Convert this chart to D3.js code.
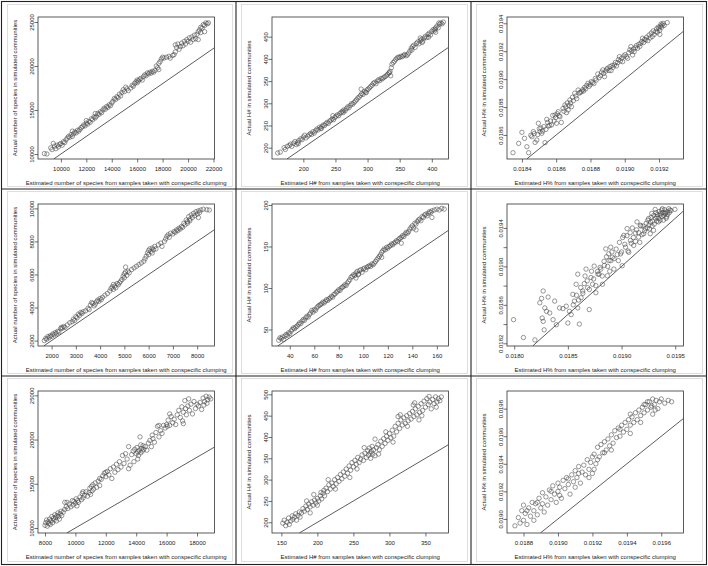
<!DOCTYPE html>
<html><head><meta charset="utf-8">
<script src="https://cdn.jsdelivr.net/npm/d3@7"></script>
<style>
html,body{margin:0;padding:0;background:#fff;}
svg{display:block;}
text{font-family:"Liberation Sans",Arial,sans-serif;font-size:6px;fill:#222;}
</style></head>
<body>
<script>
// ---------- DATA ----------
const xTitles = ["Estimated number of species from samples taken with conspecific clumping",
  "Estimated H# from samples taken with conspecific clumping",
  "Estimated H% from samples taken with conspecific clumping"];
const yTitles = ["Actual number of species in simulated communities",
  "Actual H# in simulated communities",
  "Actual H% in simulated communities"];

// axis limits [min,max] per panel (row-major)
const xLims = [[8200,22080],[151.2,426],[0.018313,0.019343],
               [1441,8714],[25.5,169.5],[0.017933,0.019577],
               [7540,19150],[137,382],[0.018704,0.019729]];
const yLims = [[9432,25568],[174.5,494.4],[0.018428,0.019445],
               [1673,10265],[30.1,201.2],[0.018172,0.019649],
               [9433,25491],[174.9,507.8],[0.018898,0.019928]];

// tick values per panel
const xTicks = [[10000,12000,14000,16000,18000,20000,22000],[200,250,300,350,400],[0.0184,0.0186,0.0188,0.0190,0.0192],
                [2000,3000,4000,5000,6000,7000,8000],[40,60,80,100,120,140,160],[0.0180,0.0185,0.0190,0.0195],
                [8000,10000,12000,14000,16000,18000],[150,200,250,300,350],[0.0188,0.0190,0.0192,0.0194,0.0196]];
const yTicks = [[10000,15000,20000,25000],[200,250,300,350,400,450],[0.0186,0.0188,0.0190,0.0192,0.0194],
                [2000,4000,6000,8000,10000],[50,100,150,200],[0.0182,0.0184,0.0186,0.0188,0.0190,0.0192,0.0194],
                [10000,15000,20000,25000],[200,250,300,350,400,450,500],[0.0190,0.0192,0.0194,0.0196,0.0198]];
const yTickLabels6 = [0.0182,0.0186,0.0190,0.0194];

const sp1Pts = [[8700,10050],[8900,10000],[9200,10700],[9300,10500],[9500,10900],[9600,10600],[9700,11000],[9800,10800],[9900,11100],[10000,11200],[10100,11000],[10200,11400],[10300,11300],[10400,11600],[10500,11800],[10600,12000],[10700,11900],[10800,12200],[10900,12600],[11000,12300],[11100,12500],[11200,12400],[11300,12700],[11400,12600],[11500,12800],[11600,13000],[11700,13100],[11800,13300],[11900,13200],[12000,13500],[12000,13800],[12100,13400],[12200,13700],[12300,13600],[12400,14000],[12500,13900],[12600,14200],[12700,14100],[12800,14300],[12900,14600],[13000,14500],[13100,14800],[13200,14700],[13300,15000],[13400,15200],[13500,15100],[13600,15400],[13700,15300],[13800,15600],[13900,15500],[14000,15800],[14100,16000],[14200,16300],[14300,16200],[14400,16500],[14500,16400],[14600,16800],[14800,17000],[14900,17300],[15000,17100],[15200,17400],[15300,17200],[15500,17500],[15600,17800],[15700,17700],[15800,18000],[15900,18200],[16000,18400],[16000,18100],[16100,18300],[16200,18500],[16300,18600],[16400,18400],[16500,18800],[16600,19000],[16700,18900],[16800,19200],[16900,19100],[17000,19300],[17100,19200],[17200,19400],[17300,19300],[17400,19500],[17600,19800],[17700,20300],[17700,19600],[17800,20500],[17900,20800],[18000,21000],[18100,20900],[18300,21000],[18500,21100],[18600,20900],[18800,21200],[18900,21300],[19000,21600],[19000,22400],[19100,22100],[19200,22500],[19300,21900],[19400,22200],[19500,22600],[19600,22300],[19700,22800],[19800,22500],[19900,23000],[20000,22800],[20100,23200],[20200,22700],[20300,23300],[20400,23000],[20500,23500],[20600,23100],[20700,23600],[20800,23900],[20900,24100],[21000,23800],[21000,24400],[21100,24300],[21200,24700],[21300,24600],[21400,24900],[21500,24800],[21600,24900],[21300,23900],[20800,23000],[9400,11200],[10900,12000],[12700,14600],[14700,16600],[15100,17600],[17500,20000]];

const h1Pts = [[160,188],[164,190],[170,200],[172,196],[175,203],[178,205],[180,208],[182,203],[185,210],[187,214],[189,207],[191,212],[193,216],[196,220],[198,218],[200,224],[202,228],[204,222],[207,226],[209,229],[211,232],[213,230],[215,236],[217,233],[219,238],[221,242],[223,240],[225,246],[227,244],[229,248],[231,251],[233,250],[235,254],[237,257],[239,255],[241,260],[243,262],[245,265],[247,263],[249,268],[251,271],[253,274],[255,272],[257,277],[259,280],[261,282],[263,285],[265,283],[267,288],[269,292],[271,290],[273,295],[275,299],[277,298],[279,302],[281,305],[283,308],[285,312],[287,314],[289,318],[291,322],[293,320],[295,327],[297,325],[299,330],[301,332],[303,335],[305,338],[307,341],[309,345],[311,347],[313,344],[315,350],[317,353],[319,351],[321,356],[323,355],[325,358],[327,360],[329,362],[331,365],[333,368],[335,372],[337,380],[338,388],[340,392],[342,395],[344,399],[346,402],[348,404],[350,403],[352,406],[354,405],[356,408],[358,410],[360,407],[362,409],[364,413],[366,418],[368,424],[370,428],[372,431],[374,426],[376,435],[378,438],[380,434],[382,441],[384,444],[386,440],[388,447],[390,451],[392,448],[394,455],[396,458],[398,454],[400,462],[402,466],[404,463],[406,470],[408,474],[410,470],[412,478],[414,481],[416,479],[418,483],[411,481],[405,467],[395,449],[385,437],[369,420],[334,369],[298,324],[262,279],[228,243],[192,209],[290,332],[246,272],[336,362],[382,447],[406,460]];

const hp1Pts = [[0.018348,0.018473],[0.018381,0.018540],[0.018400,0.018619],[0.018415,0.018576],[0.018429,0.018516],[0.018439,0.018473],[0.018452,0.018598],[0.018458,0.018588],[0.018467,0.018624],[0.018472,0.018610],[0.018477,0.018547],[0.018487,0.018564],[0.018492,0.018603],[0.018496,0.018684],[0.018502,0.018645],[0.018506,0.018624],[0.018511,0.018650],[0.018516,0.018612],[0.018521,0.018628],[0.018528,0.018660],[0.018535,0.018545],[0.018540,0.018640],[0.018545,0.018712],[0.018550,0.018690],[0.018554,0.018664],[0.018562,0.018668],[0.018567,0.018700],[0.018573,0.018672],[0.018580,0.018740],[0.018588,0.018700],[0.018593,0.018743],[0.018597,0.018725],[0.018602,0.018684],[0.018607,0.018752],[0.018612,0.018767],[0.018617,0.018738],[0.018622,0.018731],[0.018630,0.018690],[0.018640,0.018790],[0.018645,0.018770],[0.018651,0.018815],[0.018656,0.018800],[0.018660,0.018760],[0.018665,0.018830],[0.018670,0.018779],[0.018675,0.018812],[0.018680,0.018851],[0.018684,0.018830],[0.018689,0.018803],[0.018695,0.018870],[0.018700,0.018845],[0.018708,0.018899],[0.018715,0.018880],[0.018720,0.018860],[0.018728,0.018922],[0.018735,0.018900],[0.018740,0.018905],[0.018747,0.018910],[0.018755,0.018925],[0.018760,0.018915],[0.018766,0.018941],[0.018772,0.018930],[0.018778,0.018955],[0.018786,0.018970],[0.018792,0.018948],[0.018798,0.018960],[0.018805,0.018982],[0.018812,0.018975],[0.018820,0.018968],[0.018828,0.019005],[0.018834,0.018994],[0.018843,0.019037],[0.018850,0.019010],[0.018858,0.019025],[0.018865,0.019050],[0.018872,0.019066],[0.018877,0.019040],[0.018882,0.019018],[0.018890,0.019058],[0.018895,0.019072],[0.018901,0.019078],[0.018908,0.019062],[0.018914,0.019090],[0.018920,0.019061],[0.018926,0.019098],[0.018932,0.019085],[0.018940,0.019102],[0.018946,0.019120],[0.018952,0.019095],[0.018959,0.019118],[0.018964,0.019140],[0.018969,0.019161],[0.018975,0.019130],[0.018982,0.019150],[0.018988,0.019125],[0.018995,0.019165],[0.019002,0.019175],[0.019010,0.019160],[0.019017,0.019149],[0.019024,0.019190],[0.019030,0.019210],[0.019036,0.019233],[0.019040,0.019200],[0.019046,0.019173],[0.019050,0.019215],[0.019055,0.019197],[0.019062,0.019225],[0.019068,0.019240],[0.019075,0.019221],[0.019082,0.019250],[0.019088,0.019235],[0.019094,0.019257],[0.019100,0.019270],[0.019104,0.019293],[0.019110,0.019262],[0.019116,0.019285],[0.019123,0.019281],[0.019128,0.019300],[0.019135,0.019275],[0.019142,0.019316],[0.019148,0.019295],[0.019155,0.019330],[0.019161,0.019305],[0.019166,0.019345],[0.019172,0.019320],[0.019181,0.019340],[0.019186,0.019360],[0.019190,0.019335],[0.019195,0.019372],[0.019200,0.019364],[0.019204,0.019350],[0.019208,0.019380],[0.019212,0.019395],[0.019216,0.019372],[0.019219,0.019388],[0.019224,0.019400],[0.019230,0.019385],[0.019248,0.019405],[0.019205,0.019320]];

const sp2Pts = [[1700,2000],[1760,2130],[1800,2080],[1850,2250],[1900,2180],[1950,2300],[2000,2260],[2050,2400],[2100,2350],[2150,2480],[2200,2430],[2250,2560],[2300,2520],[2380,2720],[2400,2800],[2450,2760],[2500,2850],[2550,2800],[2650,2950],[2750,3080],[2850,3150],[2900,3300],[2950,3220],[3000,3450],[3050,3380],[3100,3600],[3150,3520],[3200,3700],[3250,3640],[3300,3750],[3400,3800],[3500,3950],[3550,3880],[3600,4150],[3650,4300],[3700,4250],[3750,4100],[3800,4200],[3850,4350],[3900,4450],[3950,4380],[4000,4550],[4050,4480],[4100,4620],[4200,4750],[4300,4850],[4400,5000],[4450,5150],[4500,5250],[4550,5100],[4600,5300],[4650,5200],[4700,5450],[4750,5380],[4800,5500],[4850,5600],[4900,5700],[4950,5900],[5000,6050],[5000,5800],[5050,6150],[5100,5950],[5150,6200],[5200,6100],[5300,6300],[5400,6400],[5500,6500],[5600,6600],[5700,6700],[5800,6800],[5850,6950],[5900,7100],[5950,7300],[6000,7450],[6000,7200],[6050,7550],[6100,7400],[6150,7600],[6200,7500],[6250,7700],[6300,7550],[6400,7800],[6500,7900],[6550,7700],[6650,8000],[6700,8150],[6750,8300],[6800,8400],[6850,8250],[6900,8500],[7000,8450],[7050,8600],[7100,8550],[7150,8700],[7200,8650],[7250,8800],[7300,8750],[7350,8900],[7400,8850],[7450,9100],[7500,9000],[7550,9300],[7600,9200],[7650,9500],[7700,9350],[7750,9600],[7800,9450],[7850,9700],[7900,9550],[7950,9800],[8000,9650],[8050,9850],[8100,9750],[8150,9900],[8250,9950],[8400,9920],[8500,9900],[7600,9100],[7700,9250],[8050,9450],[6150,7300],[5050,6450],[4550,5400]];

const h2Pts = [[31,37],[32,40],[33,39],[34,41],[35,38],[36,42],[37,44],[38,43],[39,46],[40,45],[41,48],[42,50],[43,52],[44,51],[45,53],[46,54],[47,56],[48,58],[49,57],[50,60],[51,62],[52,61],[53,64],[54,66],[55,65],[56,68],[57,70],[58,73],[59,71],[60,74],[61,73],[62,76],[63,78],[64,79],[65,80],[66,81],[67,83],[68,82],[69,84],[70,86],[71,85],[72,87],[73,88],[74,90],[75,89],[76,92],[77,93],[78,95],[79,96],[80,98],[81,97],[82,100],[83,101],[84,102],[85,104],[86,103],[87,106],[88,108],[89,110],[90,113],[91,114],[92,116],[93,115],[94,118],[95,120],[96,117],[97,121],[98,122],[99,119],[100,123],[101,124],[102,122],[103,125],[104,126],[105,127],[106,126],[107,129],[108,128],[109,130],[110,132],[111,134],[112,136],[113,138],[114,140],[115,143],[116,145],[117,147],[118,146],[119,149],[120,148],[121,150],[122,151],[123,153],[124,152],[125,154],[126,155],[127,157],[128,156],[129,159],[130,160],[131,161],[132,163],[133,162],[134,165],[135,167],[136,166],[137,168],[138,171],[139,173],[140,175],[141,172],[142,178],[143,177],[144,180],[145,182],[146,183],[147,181],[148,186],[149,185],[150,188],[151,189],[152,187],[153,190],[154,192],[155,191],[156,193],[158,194],[160,195],[162,194],[164,196],[166,195],[143,170],[156,185],[131,154],[115,137],[94,112],[96,116]];

const hp2Pts = [[0.017994,0.018446],[0.018086,0.018260],[0.018193,0.018235],[0.018239,0.018621],[0.018255,0.018667],[0.018270,0.018744],[0.018261,0.018463],[0.018270,0.018428],[0.018279,0.018340],[0.018285,0.018568],[0.018301,0.018533],[0.018316,0.018681],[0.018331,0.018516],[0.018362,0.018446],[0.018377,0.018639],[0.018393,0.018393],[0.018423,0.018568],[0.018454,0.018561],[0.018485,0.018586],[0.018500,0.018411],[0.018515,0.018533],[0.018531,0.018498],[0.018546,0.018709],[0.018561,0.018639],[0.018577,0.018814],[0.018592,0.018919],[0.018592,0.018568],[0.018607,0.018400],[0.018623,0.018674],[0.018638,0.018744],[0.018653,0.018821],[0.018669,0.018972],[0.018684,0.018779],[0.018699,0.018551],[0.018715,0.018884],[0.018730,0.018814],[0.018745,0.019003],[0.018761,0.018726],[0.018776,0.018947],[0.018791,0.018919],[0.018807,0.018972],[0.018822,0.018814],[0.018837,0.019053],[0.018853,0.019182],[0.018868,0.018902],[0.018883,0.019060],[0.018899,0.019200],[0.018914,0.019095],[0.018929,0.018972],[0.018960,0.019123],[0.018991,0.019130],[0.019006,0.019007],[0.019021,0.019323],[0.019037,0.019200],[0.019052,0.019393],[0.019067,0.019147],[0.019083,0.019270],[0.019113,0.019218],[0.019129,0.019347],[0.019144,0.019463],[0.019159,0.019305],[0.019175,0.019428],[0.019206,0.019340],[0.019221,0.019393],[0.019252,0.019498],[0.019267,0.019340],[0.019282,0.019551],[0.019298,0.019375],[0.019313,0.019593],[0.019328,0.019516],[0.019344,0.019463],[0.019359,0.019533],[0.019374,0.019586],[0.019390,0.019481],[0.019405,0.019558],[0.019420,0.019516],[0.019451,0.019586],[0.019497,0.019593],
[0.019200,0.019420],[0.019215,0.019370],[0.019230,0.019450],[0.019240,0.019400],[0.019245,0.019480],[0.019255,0.019430],[0.019260,0.019390],[0.019270,0.019460],[0.019275,0.019510],[0.019285,0.019420],[0.019290,0.019470],[0.019300,0.019530],[0.019305,0.019440],[0.019315,0.019500],[0.019320,0.019560],[0.019330,0.019470],[0.019335,0.019540],[0.019345,0.019500],[0.019350,0.019570],[0.019360,0.019480],[0.019365,0.019550],[0.019375,0.019520],[0.019380,0.019600],[0.019385,0.019560],[0.019395,0.019530],[0.019400,0.019590],[0.019410,0.019550],[0.019415,0.019500],[0.019425,0.019570],[0.019430,0.019540],[0.019440,0.019600],[0.019445,0.019560],[0.019460,0.019580],
[0.018800,0.018990],[0.018820,0.018900],[0.018840,0.019010],[0.018860,0.019100],[0.018870,0.019000],[0.018880,0.019130],[0.018890,0.018950],[0.018900,0.019060],[0.018910,0.019150],[0.018930,0.019080],[0.018950,0.019180],[0.018970,0.019060],[0.018980,0.019250],[0.019000,0.019150],[0.019010,0.019300],[0.019030,0.019230],[0.019050,0.019320],[0.019060,0.019160],[0.019080,0.019350],[0.019090,0.019240],[0.019100,0.019400],[0.019110,0.019300],[0.019130,0.019260],[0.019140,0.019380],[0.019160,0.019350],[0.019170,0.019250],[0.019180,0.019420],[0.019190,0.019330],
[0.018550,0.018600],[0.018580,0.018700],[0.018600,0.018650],[0.018620,0.018780],[0.018640,0.018720],[0.018660,0.018900],[0.018680,0.018850],[0.018700,0.018760],[0.018720,0.018950],[0.018740,0.018870],[0.018760,0.018800],[0.018780,0.018920]];

const sp3Pts = [[8000,10300],[8050,10600],[8100,10900],[8150,10200],[8200,10700],[8250,10500],[8300,11000],[8350,10400],[8400,10800],[8450,11300],[8500,10600],[8550,11100],[8600,10900],[8650,11500],[8700,11200],[8750,10800],[8800,11400],[8850,11700],[8900,11300],[8950,11000],[9000,11600],[9050,11900],[9100,11400],[9200,11800],[9300,12100],[9400,12400],[9450,12900],[9500,12200],[9600,12700],[9700,12400],[9800,13100],[9850,12600],[9900,13000],[10000,12800],[10050,13300],[10100,12500],[10150,13100],[10200,12900],[10300,13500],[10400,13200],[10450,13900],[10500,13400],[10600,13700],[10700,14100],[10800,13600],[10900,14000],[10950,14500],[11000,13800],[11050,14700],[11100,14200],[11150,14900],[11200,14400],[11300,15100],[11400,14600],[11500,15300],[11600,14800],[11700,15500],[11800,15900],[11900,16200],[12000,15800],[12100,16400],[12200,16000],[12300,16700],[12400,15600],[12500,16900],[12600,16300],[12700,17200],[12800,16600],[12900,17500],[13000,16900],[13100,18200],[13200,17300],[13300,18400],[13400,17800],[13500,19200],[13600,17100],[13700,18300],[13800,18700],[13850,17500],[13900,18900],[14000,18400],[14050,19100],[14100,18600],[14150,18200],[14200,18800],[14250,20300],[14300,18500],[14350,19000],[14400,18700],[14450,19300],[14500,18900],[14600,19200],[14700,18800],[14800,19600],[14900,19900],[15000,19200],[15050,20500],[15100,20100],[15200,19700],[15300,20800],[15400,21500],[15500,20300],[15600,21000],[15700,20700],[15800,21600],[15900,21300],[16000,21700],[16050,21500],[16100,22200],[16200,21600],[16300,22600],[16400,21900],[16500,22300],[16600,21700],[16700,22800],[16800,23300],[16900,22500],[17000,23700],[17050,22100],[17100,23100],[17200,24400],[17250,23500],[17300,22800],[17400,23800],[17450,24600],[17500,23300],[17600,24000],[17700,22900],[17800,24300],[17900,23500],[18000,24000],[18100,23800],[18200,24200],[18300,23400],[18400,24700],[18500,24300],[18600,24900],[18700,24500],[18800,24800],[18900,24600],[18650,24100],[18450,23900],[13500,16700],[12000,16300],[15500,21600],[16200,22900],[17100,21800],[11600,15600],[10500,14100],[9300,12900],[14100,17800],[14300,19400]];

const h3Pts = [[152,198],[154,205],[156,192],[158,200],[160,210],[161,195],[163,203],[165,215],[166,207],[168,212],[170,220],[171,205],[173,216],[175,224],[176,212],[178,222],[180,232],[182,226],[184,238],[186,230],[188,243],[190,236],[192,248],[194,240],[196,252],[198,245],[200,256],[202,250],[204,262],[206,255],[208,268],[209,275],[210,262],[212,280],[214,272],[216,288],[218,278],[220,292],[222,284],[224,300],[226,290],[228,305],[230,296],[232,312],[234,302],[236,318],[238,308],[240,325],[242,315],[244,332],[246,322],[248,340],[250,330],[252,345],[254,336],[256,352],[258,340],[260,348],[262,358],[264,345],[266,362],[268,352],[270,368],[271,357],[272,374],[273,362],[274,350],[275,366],[276,378],[277,360],[278,370],[280,356],[282,375],[284,382],[286,370],[288,390],[290,378],[292,396],[294,385],[296,402],[298,392],[300,408],[302,398],[304,416],[306,402],[308,425],[310,412],[312,432],[314,420],[316,440],[318,428],[320,445],[322,432],[324,450],[326,438],[328,455],[330,442],[332,460],[334,448],[336,466],[338,452],[340,472],[342,458],[344,478],[346,462],[348,484],[350,470],[352,490],[354,476],[356,482],[358,466],[360,488],[362,478],[364,494],[366,482],[368,490],[370,485],[372,494],[341,440],[333,475],[312,448],[215,300],[225,278],[245,305],[255,325],[265,375],[280,395],[285,360],[295,412],[305,388],[315,452],[325,425],[335,480],[345,450],[355,495],[365,470],[190,222],[200,240],[205,270],[185,250],[195,265]];

const hp3Pts = [[0.018750,0.018950],[0.018770,0.019010],[0.018780,0.018970],[0.018790,0.019060],[0.018800,0.018990],[0.018800,0.019100],[0.018810,0.019040],[0.018820,0.018960],[0.018830,0.019080],[0.018840,0.019020],[0.018850,0.019120],[0.018860,0.018990],[0.018860,0.019060],[0.018870,0.019110],[0.018880,0.019030],[0.018890,0.019150],[0.018900,0.019080],[0.018910,0.019190],[0.018910,0.019110],[0.018920,0.019050],[0.018930,0.019160],[0.018940,0.019100],[0.018950,0.019210],[0.018960,0.019140],[0.018970,0.019240],[0.018980,0.019180],[0.018990,0.019120],[0.019000,0.019260],[0.019000,0.019200],[0.019010,0.019230],[0.019020,0.019150],[0.019030,0.019280],[0.019040,0.019220],[0.019050,0.019300],[0.019060,0.019250],[0.019070,0.019180],[0.019080,0.019320],[0.019090,0.019270],[0.019100,0.019350],[0.019100,0.019230],[0.019110,0.019300],[0.019120,0.019380],[0.019130,0.019260],[0.019140,0.019340],[0.019150,0.019390],[0.019160,0.019320],[0.019170,0.019430],[0.019180,0.019360],[0.019190,0.019410],[0.019200,0.019330],[0.019200,0.019450],[0.019210,0.019470],[0.019220,0.019400],[0.019230,0.019520],[0.019240,0.019450],[0.019250,0.019540],[0.019260,0.019480],[0.019270,0.019560],[0.019280,0.019500],[0.019290,0.019580],[0.019300,0.019530],[0.019310,0.019610],[0.019320,0.019550],[0.019330,0.019640],[0.019340,0.019590],[0.019350,0.019660],[0.019360,0.019600],[0.019370,0.019680],[0.019380,0.019630],[0.019390,0.019700],[0.019400,0.019650],[0.019410,0.019720],[0.019420,0.019680],[0.019430,0.019740],[0.019440,0.019700],[0.019450,0.019770],[0.019460,0.019720],[0.019470,0.019790],[0.019480,0.019750],[0.019490,0.019810],[0.019500,0.019770],[0.019510,0.019830],[0.019520,0.019790],[0.019530,0.019850],[0.019540,0.019810],[0.019550,0.019870],[0.019560,0.019830],[0.019570,0.019860],[0.019580,0.019800],[0.019590,0.019850],[0.019600,0.019870],[0.019620,0.019840],[0.019640,0.019860],[0.019660,0.019850],[0.019550,0.019760],[0.019520,0.019850],[0.019480,0.019700],[0.019420,0.019620],[0.019360,0.019650],[0.019310,0.019500],[0.019270,0.019480],[0.019230,0.019430],[0.019180,0.019300],[0.019120,0.019330],[0.019060,0.019290],[0.019010,0.019170],[0.018960,0.019200],[0.018880,0.019120],[0.018820,0.019060],[0.019210,0.019360],[0.019420,0.019760],[0.019500,0.019830],[0.019545,0.019820],[0.019565,0.019790]];

const panelPts = [sp1Pts,h1Pts,hp1Pts,sp2Pts,h2Pts,hp2Pts,sp3Pts,h3Pts,hp3Pts];

// ---------- LAYOUT ----------
const W = 708, H = 566;
const colX = [2, 236, 471], colW = [234, 235, 235];
const rowY = [2, 189, 376], rowH = [187, 187, 188];

const svg = d3.select("body").append("svg").attr("width", W).attr("height", H);
svg.append("rect").attr("width", W).attr("height", H).attr("fill", "#fff");

// light inner frames of each embedded figure
for (let r = 0; r < 3; r++) for (let c = 0; c < 3; c++) {
  svg.append("rect").attr("x", colX[c] + 5.5).attr("y", rowY[r] + 2.5)
    .attr("width", colW[c] - 9).attr("height", rowH[r] - 5)
    .attr("fill", "none").attr("stroke", "#d6d6d6").attr("stroke-width", 0.8);
}

for (let i = 0; i < 9; i++) {
  const r = Math.floor(i / 3), c = i % 3;
  const L = colX[c] + 36, R = colX[c] + 212.5, T = rowY[r] + 15, B = rowY[r] + 157;
  const x = d3.scaleLinear().domain(xLims[i]).range([L, R]);
  const y = d3.scaleLinear().domain(yLims[i]).range([B, T]);
  const isH = c === 2;
  const fmt = isH ? d3.format(".4f") : d3.format("d");
  const g = svg.append("g");

  const clipId = "clip" + i;
  g.append("clipPath").attr("id", clipId).append("rect")
    .attr("x", L).attr("y", T).attr("width", R - L).attr("height", B - T);

  // 1:1 line
  const lo = Math.max(xLims[i][0], yLims[i][0]), hi = Math.min(xLims[i][1], yLims[i][1]);
  g.append("line").attr("clip-path", `url(#${clipId})`)
    .attr("x1", x(lo)).attr("y1", y(lo)).attr("x2", x(hi)).attr("y2", y(hi))
    .attr("stroke", "#333").attr("stroke-width", 0.8);

  // points
  g.append("g").selectAll("circle").data(panelPts[i]).join("circle")
    .attr("cx", d => x(d[0])).attr("cy", d => y(d[1])).attr("r", 2.2)
    .attr("fill", "none").attr("stroke", "#444").attr("stroke-width", 0.55);

  // box
  g.append("rect").attr("x", L).attr("y", T).attr("width", R - L).attr("height", B - T)
    .attr("fill", "none").attr("stroke", "#333").attr("stroke-width", 0.8);

  // x axis
  const xa = g.append("g").attr("transform", `translate(0,${B})`)
    .call(d3.axisBottom(x).tickValues(xTicks[i]).tickSize(3.5).tickFormat(fmt));
  xa.select(".domain").remove();
  xa.selectAll("line").attr("stroke", "#333").attr("stroke-width", 0.7);
  xa.selectAll("text").attr("y", 12.3).attr("dy", 0).attr("fill", "#222")
    .style("font-size", "6px").style("font-family", '"Liberation Sans",Arial,sans-serif');

  // y axis (labels parallel to axis)
  const yfmt = i === 5 ? (d => yTickLabels6.some(v => Math.abs(v - d) < 1e-9) ? fmt(d) : "") : fmt;
  const ya = g.append("g").attr("transform", `translate(${L},0)`)
    .call(d3.axisLeft(y).tickValues(yTicks[i]).tickSize(3.5).tickFormat(yfmt));
  ya.select(".domain").remove();
  ya.selectAll("line").attr("stroke", "#333").attr("stroke-width", 0.7);
  ya.selectAll("text").attr("x", 0).attr("y", -4.3).attr("dy", 0)
    .attr("transform", "rotate(-90)").attr("text-anchor", "middle").attr("fill", "#222")
    .style("font-size", "6px").style("font-family", '"Liberation Sans",Arial,sans-serif');

  // titles
  g.append("text").attr("x", (L + R) / 2).attr("y", B + 25.8)
    .attr("text-anchor", "middle").text(xTitles[c]);
  g.append("text").attr("transform", `translate(${L - 21.5},${(T + B) / 2}) rotate(-90)`)
    .attr("text-anchor", "middle").text(yTitles[c]);
}

// grid lines and outer border
const gl = svg.append("g").attr("stroke", "#222").attr("stroke-width", 1.1).attr("fill", "none");
gl.append("rect").attr("x", 1.5).attr("y", 1.5).attr("width", 705).attr("height", 563);
[236, 471].forEach(v => gl.append("line").attr("x1", v).attr("x2", v).attr("y1", 1.5).attr("y2", 564.5));
[189, 376].forEach(v => gl.append("line").attr("y1", v).attr("y2", v).attr("x1", 1.5).attr("x2", 706.5));
</script>
</body></html>
